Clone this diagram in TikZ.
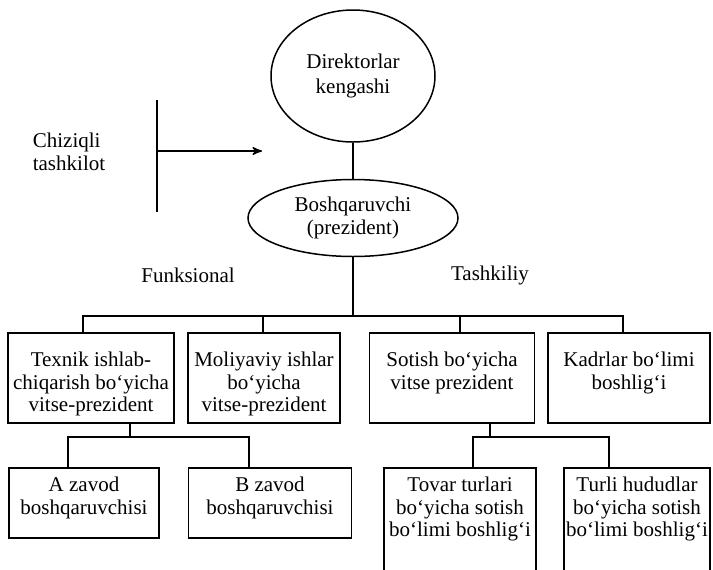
\documentclass[tikz,border=0pt]{standalone}
\usepackage{fontspec}
\setmainfont{Liberation Serif}
\usepackage{tikz}
\usetikzlibrary{arrows,shapes.geometric}
\newcommand{\blokmatn}[4]{\parbox[c][#2][t]{#1}{\centering\rule{0pt}{#3}#4}}

\begin{document}
\begin{tikzpicture}[x=0.5pt,y=-0.5pt,>=stealth',line width=0.75pt,
  font=\fontsize{10.5}{11.3}\selectfont]
  \tikzstyle{kengash}=[ellipse,draw=black,inner sep=0pt,
                                    minimum width=82pt,
                                    minimum height=66pt,
                                    align=center]
  \tikzstyle{rahbar}=[ellipse,draw=black,inner sep=0pt,
                                    minimum width=105pt,
                                    minimum height=38.5pt,
                                    align=center]
  \tikzstyle{blok}=[rectangle,draw=black,inner sep=0pt,anchor=north]
  \tikzstyle{yozuv}=[align=left,inner sep=0pt]
  \useasboundingbox (0,0) rectangle (713,569);
  %Yuqori tugunlar
  \node[kengash] (DK) at (353,76) {Direktorlar\\[1.5pt]kengashi};
  \node[rahbar] (BP) at (353,218) {Boshqaruvchi\\(prezident)};
  \node[yozuv] (CT) at (69,152) {Chiziqli\\tashkilot};
  \node (FN) at (188,275) {Funksional};
  \node (TS) at (490,275) {Tashkiliy};
  %Ikkinchi qator
  \node[blok] (T1) at (91,332) {\blokmatn{83pt}{45pt}{17pt}{Texnik ishlab-\\chiqarish bo‘yicha\\vitse-prezident}};
  \node[blok] (T2) at (264,332) {\blokmatn{76pt}{45pt}{17pt}{Moliyaviy ishlar\\bo‘yicha\\vitse-prezident}};
  \node[blok] (T3) at (452,332) {\blokmatn{82.5pt}{45pt}{17pt}{Sotish bo‘yicha\\vitse prezident}};
  \node[blok] (T4) at (629,332) {\blokmatn{81pt}{45pt}{17pt}{Kadrlar bo‘limi\\boshlig‘i}};
  %Pastki qator
  \node[blok] (A) at (84,467) {\blokmatn{75pt}{35pt}{12pt}{A zavod\\boshqaruvchisi}};
  \node[blok] (B) at (270,467) {\blokmatn{81.5pt}{35pt}{12pt}{B zavod\\boshqaruvchisi}};
  \node[blok] (Tv) at (460,467) {\blokmatn{76pt}{66.5pt}{12pt}{Tovar turlari\\bo‘yicha sotish\\bo‘limi boshlig‘i}};
  \node[blok] (Tr) at (637,467) {\blokmatn{73pt}{66.5pt}{12pt}{Turli hududlar\\bo‘yicha sotish\\bo‘limi boshlig‘i}};
  %Chiziqlar
  \coordinate (c1) at (157,100);
  \coordinate (c2) at (157,212);
  \coordinate (c3) at (262,151);
  \coordinate (p1) at (83,316);
  \coordinate (p2) at (263,316);
  \coordinate (p3) at (460,316);
  \coordinate (p4) at (623,316);
  \coordinate (q0) at (130,437);
  \coordinate (q1) at (68,437);
  \coordinate (q2) at (249,437);
  \coordinate (r0) at (490,437);
  \coordinate (r1) at (473,437);
  \coordinate (r2) at (609,437);
  \draw (c1) -- (c2);
  \draw[->] (c1 |- c3) -- (c3);
  \path (DK) edge (BP);
  \draw (BP) -- (BP |- p1);
  \draw (p1 |- T1.north) -- (p1) -- (p4) -- (p4 |- T4.north);
  \draw (p2) -- (p2 |- T2.north)
        (p3) -- (p3 |- T3.north);
  \draw (q0 |- T1.south) -- (q0);
  \draw (q1 |- A.north) -- (q1) -- (q2) -- (q2 |- B.north);
  \draw (r0 |- T3.south) -- (r0);
  \draw (r1 |- Tv.north) -- (r1) -- (r2) -- (r2 |- Tr.north);
\end{tikzpicture}
\end{document}
